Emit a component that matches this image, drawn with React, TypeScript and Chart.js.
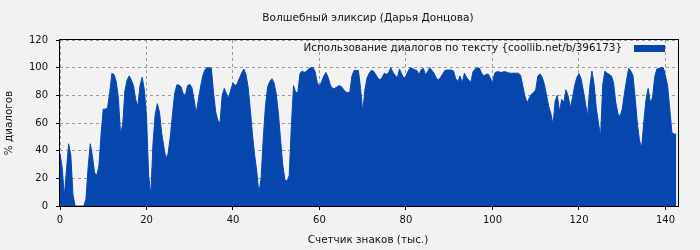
import React, { useEffect, useRef } from 'react';
import { Chart, registerables } from 'chart.js';

Chart.register(...registerables);

const TITLE = 'Волшебный эликсир (Дарья Донцова)';
const SERIES_LABEL = 'Использование диалогов по тексту {coollib.net/b/396173}';
const X_TITLE = 'Счетчик знаков (тыс.)';
const Y_TITLE = '% диалогов';

const xTicks = [0, 20, 40, 60, 80, 100, 120, 140];
const yTicks = [0, 20, 40, 60, 80, 100, 120];

// text position, thousands of characters
const positions = [
  0, 0.5, 1, 1.5, 2, 2.5, 3, 3.5, 4, 4.5, 5, 5.5, 6, 6.5, 7, 7.5, 8, 8.5, 9, 9.5,
  10, 10.5, 11, 11.5, 12, 12.5, 13, 13.5, 14, 14.5, 15, 15.5, 16, 16.5, 17, 17.5, 18, 18.5, 19, 19.5,
  20, 20.5, 21, 21.5, 22, 22.5, 23, 23.5, 24, 24.5, 25, 25.5, 26, 26.5, 27, 27.5, 28, 28.5, 29, 29.5,
  30, 30.5, 31, 31.5, 32, 32.5, 33, 33.5, 34, 34.5, 35, 35.5, 36, 36.5, 37, 37.5, 38, 38.5, 39, 39.5,
  40, 40.5, 41, 41.5, 42, 42.5, 43, 43.5, 44, 44.5, 45, 45.5, 46, 46.5, 47, 47.5, 48, 48.5, 49, 49.5,
  50, 50.5, 51, 51.5, 52, 52.5, 53, 53.5, 54, 54.5, 55, 55.5, 56, 56.5, 57, 57.5, 58, 58.5, 59, 59.5,
  60, 60.5, 61, 61.5, 62, 62.5, 63, 63.5, 64, 64.5, 65, 65.5, 66, 66.5, 67, 67.5, 68, 68.5, 69, 69.5,
  70, 70.5, 71, 71.5, 72, 72.5, 73, 73.5, 74, 74.5, 75, 75.5, 76, 76.5, 77, 77.5, 78, 78.5, 79, 79.5,
  80, 80.5, 81, 81.5, 82, 82.5, 83, 83.5, 84, 84.5, 85, 85.5, 86, 86.5, 87, 87.5, 88, 88.5, 89, 89.5,
  90, 90.5, 91, 91.5, 92, 92.5, 93, 93.5, 94, 94.5, 95, 95.5, 96, 96.5, 97, 97.5, 98, 98.5, 99, 99.5,
  100, 100.5, 101, 101.5, 102, 102.5, 103, 103.5, 104, 104.5, 105, 105.5, 106, 106.5, 107, 107.5, 108, 108.5, 109, 109.5,
  110, 110.5, 111, 111.5, 112, 112.5, 113, 113.5, 114, 114.5, 115, 115.5, 116, 116.5, 117, 117.5, 118, 118.5, 119, 119.5,
  120, 120.5, 121, 121.5, 122, 122.5, 123, 123.5, 124, 124.5, 125, 125.5, 126, 126.5, 127, 127.5, 128, 128.5, 129, 129.5,
  130, 130.5, 131, 131.5, 132, 132.5, 133, 133.5, 134, 134.5, 135, 135.5, 136, 136.5, 137, 137.5, 138, 138.5, 139, 139.5,
  140, 140.5, 141, 141.5, 142, 142.5,
];

// % of dialogue at each position
const dialogPercent = [
  38, 28, 7, 26, 45, 37, 8, 0, 0, 0, 0, 0, 5, 28, 45, 36, 24, 22, 29, 52,
  70, 70, 71, 82, 96, 95, 90, 78, 52, 59, 83, 91, 94, 91, 87, 77, 72, 87, 93, 84,
  65, 22, 8, 45, 66, 74, 68, 53, 43, 34, 38, 50, 66, 81, 87.5, 87.5, 86, 81, 80, 87,
  88, 85.5, 77, 67, 77, 86, 94, 98.5, 100, 100, 99.5, 82, 68, 62, 60, 80, 85, 81, 78, 84,
  89, 87, 88.5, 92.5, 96, 99, 95, 86, 70, 52, 37, 25, 9, 20, 49, 72, 86, 90, 92, 89,
  81, 67, 48, 30, 19, 18, 22, 58, 87, 82, 82, 96, 97.5, 96.5, 97.5, 99, 100, 100, 97, 89,
  86.5, 90, 94, 96.5, 93, 87.5, 85, 85, 86, 87, 86.5, 84.5, 82.5, 82, 82, 94, 98, 98, 98, 85,
  68, 84, 92.5, 96, 98, 97.5, 95, 92.5, 91, 93, 96, 95, 96.5, 100, 96.5, 94.5, 92.5, 99, 95.5, 92.3,
  94, 97.5, 100, 99.5, 98.5, 98, 95, 98.5, 99.5, 95, 97, 100, 98, 96, 92.5, 91, 93, 95.5, 98, 98.3,
  98.3, 98.3, 97.5, 92, 90, 94, 89, 96, 93, 91, 89.5, 97, 99, 100, 99.5, 96, 94, 95, 95.5, 92.5,
  89, 96, 97, 97, 96.5, 97, 97, 96.5, 96, 96, 96, 96, 96, 94.5, 87, 79.5, 74.5, 78, 80.7, 82,
  84, 94, 95.5, 93, 88, 80, 72, 67, 58.5, 76, 80, 68, 77, 75, 84, 79.5, 71, 78, 87, 92.8,
  95.7, 92, 83.5, 74, 65, 86, 97.5, 88, 71, 60, 50, 88, 97.5, 96, 95, 94, 89, 75, 67, 64.5,
  70, 81, 91, 99.5, 97.5, 94, 78, 60, 47, 42.5, 61, 77, 85, 75, 78, 93, 99, 99.5, 100, 100,
  94, 87, 70, 53, 52, 52,
];

export default function App() {
  const ref = useRef<HTMLCanvasElement>(null);

  useEffect(() => {
    const canvas = ref.current;
    if (!canvas) return;
    const FONT = '"DejaVu Sans", sans-serif';
    const BLUE = '#0646ad';
    const INK = '#111';

    const overlay = {
      id: 'overlay',
      afterDraw(chart: any) {
        const { ctx, chartArea: a } = chart;
        ctx.save();
        // frame
        ctx.strokeStyle = '#000';
        ctx.lineWidth = 1;
        ctx.setLineDash([]);
        ctx.strokeRect(Math.round(a.left) - 0.5, Math.round(a.top) - 0.5, Math.round(a.right - a.left) + 1, Math.round(a.bottom - a.top) + 1);
        const cx = (a.left + a.right) / 2;
        ctx.fillStyle = INK;
        ctx.textAlign = 'center';
        ctx.textBaseline = 'middle';
        // title
        ctx.font = `10.6px ${FONT}`;
        ctx.fillText(TITLE, cx - 1, 18);
        // x title
        ctx.font = `10.4px ${FONT}`;
        ctx.fillText(X_TITLE, cx - 1, 240);
        // y title
        ctx.save();
        ctx.translate(9, (a.top + a.bottom) / 2);
        ctx.rotate(-Math.PI / 2);
        ctx.fillText(Y_TITLE, 0, 0);
        ctx.restore();
        // legend
        ctx.textAlign = 'right';
        ctx.fillText(SERIES_LABEL, a.right - 56, a.top + 8);
        ctx.fillStyle = BLUE;
        ctx.fillRect(a.right - 44, a.top + 5, 31, 7);
        ctx.restore();
      },
    };

    const chart = new Chart(canvas, {
      type: 'line',
      data: {
        datasets: [
          {
            label: SERIES_LABEL,
            data: positions.map((x, i) => ({ x, y: dialogPercent[i] })),
            borderColor: BLUE,
            backgroundColor: BLUE,
            borderWidth: 1,
            pointRadius: 0,
            fill: 'origin',
            tension: 0,
          },
        ],
      },
      options: {
        animation: false,
        responsive: false,
        devicePixelRatio: 1,
        layout: { padding: { top: 40, right: 22, left: 0, bottom: 0 } },
        plugins: {
          legend: { display: false },
          title: { display: false },
          tooltip: { enabled: false },
        },
        scales: {
          x: {
            type: 'linear',
            min: 0,
            max: 142.9,
            afterBuildTicks: (s: any) => {
              s.ticks = xTicks.map((v) => ({ value: v }));
            },
            afterFit: (s: any) => {
              s.height = 44;
            },
            grid: {
              color: '#9a9a9a',
              tickColor: '#000',
              tickLength: 4,
              tickBorderDash: [],
            } as any,
            border: { display: false, dash: [3, 3] } as any,
            ticks: { color: INK, font: { family: FONT, size: 10 }, padding: 4, maxRotation: 0 },
          },
          y: {
            type: 'linear',
            min: 0,
            max: 120,
            afterBuildTicks: (s: any) => {
              s.ticks = yTicks.map((v) => ({ value: v }));
            },
            afterFit: (s: any) => {
              s.width = 60;
            },
            grid: {
              color: '#9a9a9a',
              tickColor: '#000',
              tickLength: 4,
              tickBorderDash: [],
            } as any,
            border: { display: false, dash: [3, 3] } as any,
            ticks: { color: INK, font: { family: FONT, size: 10 }, padding: 8 },
          },
        },
      },
      plugins: [overlay],
    });
    return () => chart.destroy();
  }, []);

  return (
    <div style={{ position: 'fixed', left: 0, top: 0, width: 700, height: 250, background: '#f2f2f2' }}>
      <canvas ref={ref} width={700} height={250} style={{ display: 'block' }} />
    </div>
  );
}
